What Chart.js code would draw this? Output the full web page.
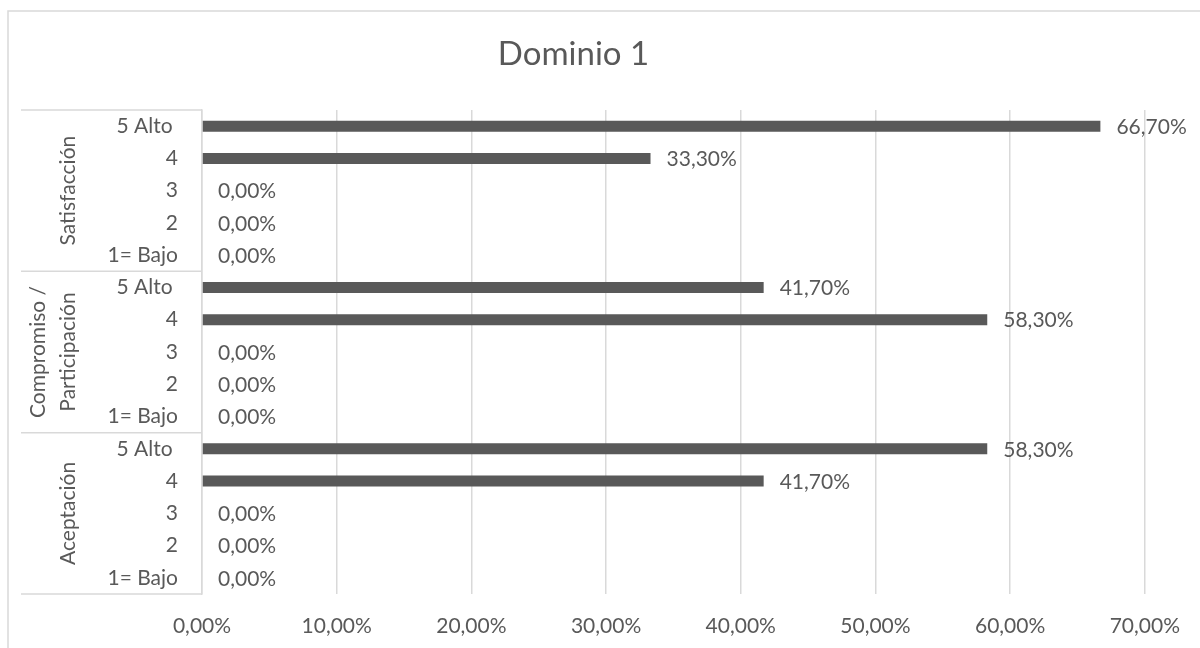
<!DOCTYPE html>
<html>
<head>
<meta charset="utf-8">
<script src="https://cdn.jsdelivr.net/npm/chart.js@4/dist/chart.umd.min.js"></script>
<style>
  html, body { margin: 0; padding: 0; background: #fff; }
  #wrap { width: 1200px; height: 648px; position: relative; }
</style>
</head>
<body>
<div id="wrap"><canvas id="chart"></canvas></div>
<script>
  // categories, top to bottom as drawn
  const GROUPS = ['Satisfacción', 'Compromiso / Participación', 'Aceptación'];
  const GROUP_LINES = [['Satisfacción'], ['Compromiso /', 'Participación'], ['Aceptación']];
  const LEVELS = ['5 Alto ', '4', '3', '2', '1= Bajo'];

  // percentages per group, in LEVELS order
  const satisfaccion = [66.7, 33.3, 0, 0, 0];
  const compromiso = [41.7, 58.3, 0, 0, 0];
  const aceptacion = [58.3, 41.7, 0, 0, 0];

  const X_TICKS = [0, 10, 20, 30, 40, 50, 60, 70];

  const TEXT = '#595959';
  const GRID = '#d9d9d9';
  const BAR = '#595959';
  const FONT = 'Lato, "Open Sans", sans-serif';
  const LABEL_SIZE = 21;

  const labels = [].concat(LEVELS, LEVELS, LEVELS);
  const values = [].concat(satisfaccion, compromiso, aceptacion);

  const pct = v => v.toFixed(2).replace('.', ',') + '%';

  // outer chart frame
  const framePlugin = {
    id: 'frame',
    beforeDraw(chart) {
      const ctx = chart.ctx;
      ctx.save();
      ctx.strokeStyle = GRID;
      ctx.lineWidth = 1.5;
      ctx.strokeRect(8, 11, 1400, 800);
      ctx.restore();
    },
  };

  // group separators + rotated group names on the category axis
  const groupPlugin = {
    id: 'groups',
    afterDraw(chart) {
      const ctx = chart.ctx;
      const y = chart.scales.y;
      const area = chart.chartArea;
      const per = LEVELS.length;
      const half = (y.getPixelForValue(1) - y.getPixelForValue(0)) / 2;
      ctx.save();
      ctx.strokeStyle = GRID;
      ctx.lineWidth = 1.5;
      for (let g = 0; g <= GROUPS.length; g++) {
        const py = g < GROUPS.length
          ? y.getPixelForValue(g * per) - half
          : y.getPixelForValue(g * per - 1) + half;
        ctx.beginPath();
        ctx.moveTo(21, py);
        ctx.lineTo(area.left, py);
        ctx.stroke();
      }
      ctx.fillStyle = TEXT;
      ctx.font = LABEL_SIZE + 'px ' + FONT;
      ctx.textAlign = 'center';
      ctx.textBaseline = 'middle';
      GROUP_LINES.forEach((lines, g) => {
        const top = y.getPixelForValue(g * per) - half;
        const bot = y.getPixelForValue(g * per + per - 1) + half;
        const cy = (top + bot) / 2;
        lines.forEach((t, i) => {
          const cx = 68 - (lines.length - 1 - i) * 30;
          ctx.save();
          ctx.translate(cx, cy);
          ctx.rotate(-Math.PI / 2);
          ctx.fillText(t, 0, 0);
          ctx.restore();
        });
      });
      ctx.restore();
    },
  };

  // value labels at bar ends
  const valuePlugin = {
    id: 'values',
    afterDatasetsDraw(chart) {
      const ctx = chart.ctx;
      const meta = chart.getDatasetMeta(0);
      ctx.save();
      ctx.fillStyle = TEXT;
      ctx.font = LABEL_SIZE + 'px ' + FONT;
      ctx.textAlign = 'left';
      ctx.textBaseline = 'middle';
      meta.data.forEach((bar, i) => {
        ctx.fillText(pct(values[i]), bar.x + 16, bar.y + 1);
      });
      ctx.restore();
    },
  };

  new Chart(document.getElementById('chart'), {
    type: 'bar',
    data: {
      labels,
      datasets: [{
        data: values,
        backgroundColor: BAR,
        barThickness: 11,
        inflateAmount: 0,
      }],
    },
    options: {
      indexAxis: 'y',
      responsive: true,
      maintainAspectRatio: false,
      animation: false,
      layout: { padding: { left: 0, right: 53, top: 0, bottom: 0 } },
      plugins: {
        legend: { display: false },
        tooltip: { enabled: false },
        title: {
          display: true,
          text: 'Dominio 1',
          color: TEXT,
          font: { family: FONT, size: 33, weight: 'normal', lineHeight: 1.2 },
          padding: { top: 35, bottom: 35.4 },
        },
      },
      scales: {
        x: {
          min: 0,
          max: 70,
          afterBuildTicks: axis => { axis.ticks = X_TICKS.map(v => ({ value: v })); },
          afterFit: axis => { axis.height = 54; },
          grid: { color: GRID, lineWidth: 1.5, drawTicks: false },
          border: { display: false },
          ticks: {
            color: TEXT,
            padding: 20,
            font: { family: FONT, size: LABEL_SIZE },
            callback: v => pct(v),
          },
        },
        y: {
          afterFit: axis => { axis.width = 202; },
          grid: { display: false, drawTicks: false },
          border: { display: true, color: GRID, width: 1.5 },
          ticks: {
            color: TEXT,
            padding: 24,
            autoSkip: false,
            font: { family: FONT, size: LABEL_SIZE },
          },
        },
      },
    },
    plugins: [framePlugin, groupPlugin, valuePlugin],
  });
</script>
</body>
</html>
